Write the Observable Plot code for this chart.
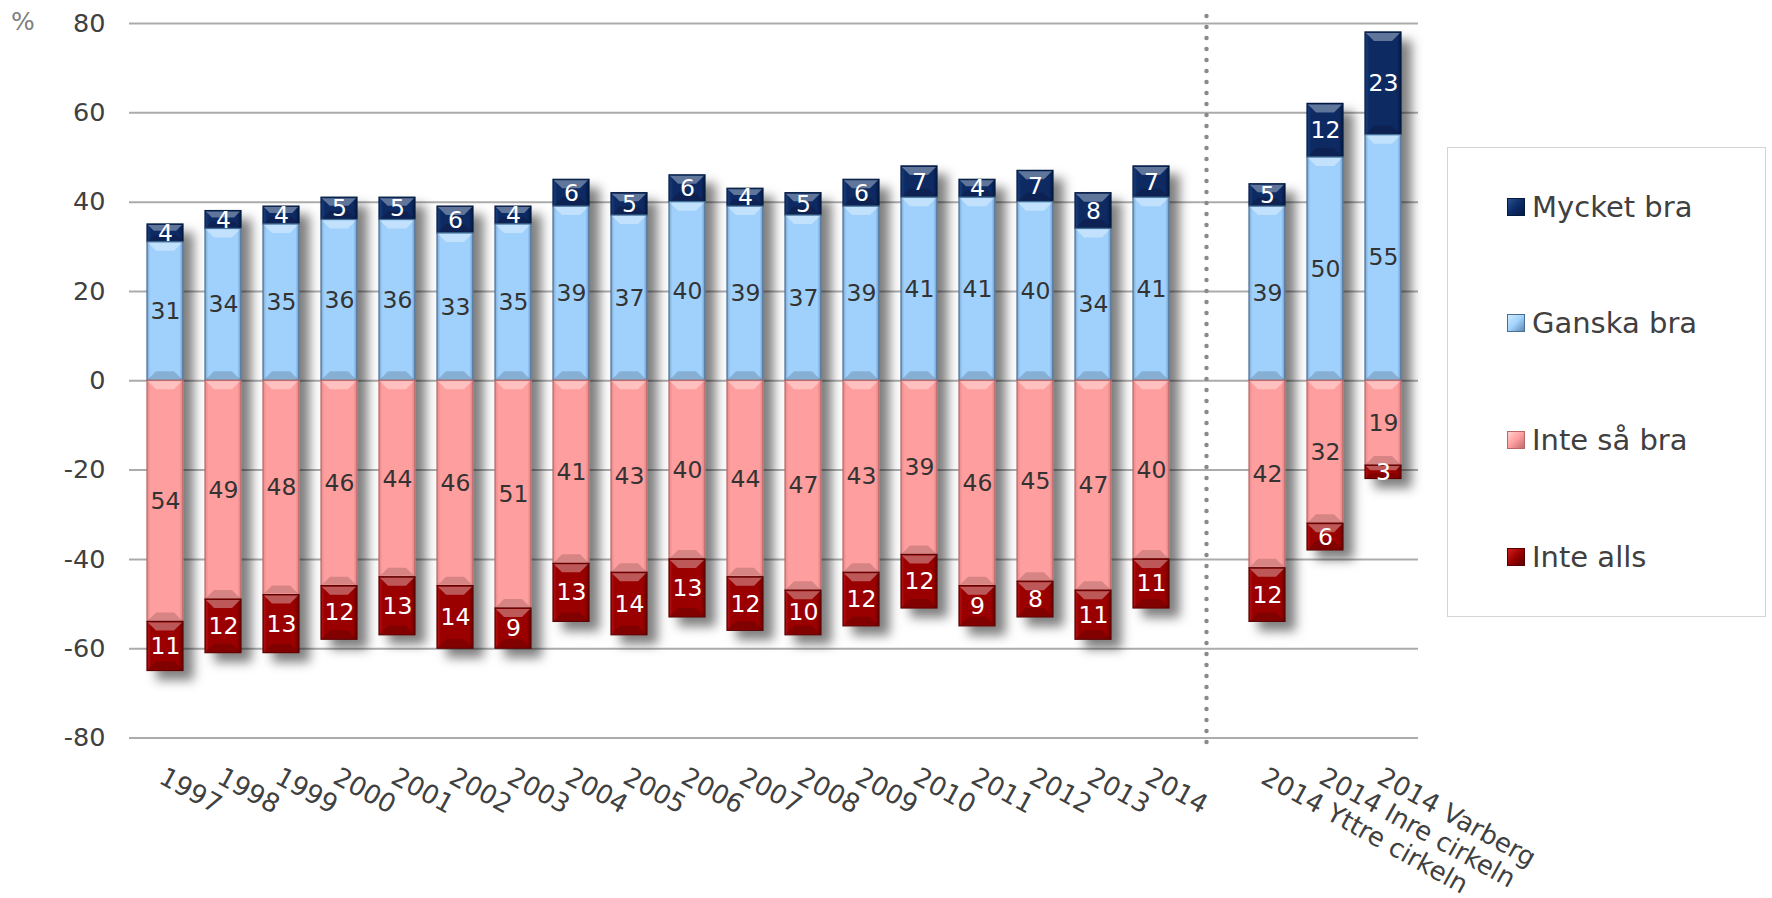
<!DOCTYPE html>
<html><head><meta charset="utf-8">
<script src="https://cdn.jsdelivr.net/npm/d3@7"></script>
<script src="https://cdn.jsdelivr.net/npm/@observablehq/plot@0.6"></script>
<style>
html,body{margin:0;padding:0;background:#fff;}
#wrap{position:relative;width:1772px;height:898px;font-family:"DejaVu Sans",Verdana,sans-serif;overflow:hidden;}
#pct{position:absolute;left:11px;top:9px;font-size:25px;line-height:1;color:#7f7f7f;}
#legend{position:absolute;left:1447px;top:147px;width:319px;height:470px;border:1px solid #d4d4d4;box-sizing:border-box;}
.item{position:absolute;left:59px;height:34px;display:flex;align-items:center;font-size:29px;color:#404040;white-space:nowrap;}
.sw{width:18px;height:18px;margin-right:7px;box-sizing:border-box;}
#chart{position:absolute;left:0;top:0;}
</style></head>
<body><div id="wrap"><div id="chart"></div><span id="pct">%</span><div id="legend"></div></div>
<script>
// ---- data ----
const yearCategories = ["1997","1998","1999","2000","2001","2002","2003","2004","2005","2006","2007","2008","2009","2010","2011","2012","2013","2014"];
const regionCategories = ["2014 Yttre cirkeln","2014 Inre cirkeln","2014 Varberg"];
const seriesNames = ["Mycket bra","Ganska bra","Inte så bra","Inte alls"];
const mycketBra = [4,4,4,5,5,6,4,6,5,6,4,5,6,7,4,7,8,7, 5,12,23];
const ganskaBra = [31,34,35,36,36,33,35,39,37,40,39,37,39,41,41,40,34,41, 39,50,55];
const inteSaBra = [54,49,48,46,44,46,51,41,43,40,44,47,43,39,46,45,47,40, 42,32,19];
const inteAlls  = [11,12,13,12,13,14,9,13,14,13,12,10,12,12,9,8,11,11, 12,6,3];
const yTicks = [-80,-60,-40,-20,0,20,40,60,80];

// ---- build table ----
const categories = [...yearCategories, ...regionCategories];
const GAP = "__gap__";
const xDomain = [...yearCategories, GAP, ...regionCategories];
const seriesValues = {"Mycket bra": mycketBra, "Ganska bra": ganskaBra, "Inte så bra": inteSaBra, "Inte alls": inteAlls};
const sign = {"Mycket bra": 1, "Ganska bra": 1, "Inte så bra": -1, "Inte alls": -1};
const table = [];
categories.forEach((c, i) => {
  for (const s of seriesNames) table.push({cat: c, series: s, value: sign[s] * seriesValues[s][i]});
});
const stackOrder = ["Ganska bra","Mycket bra","Inte så bra","Inte alls"];

const gradId = {"Mycket bra":"g-mb","Ganska bra":"g-gb","Inte så bra":"g-isb","Inte alls":"g-ia"};
const strokeCol = {"Mycket bra":"#061a40","Ganska bra":"#4a6f93","Inte så bra":"#b86868","Inte alls":"#5a0000"};
const textCol = {"Mycket bra":"#ffffff","Ganska bra":"#333333","Inte så bra":"#333333","Inte alls":"#ffffff"};

const font = "DejaVu Sans, Verdana, sans-serif";

const chart = Plot.plot({
  width: 1772, height: 898,
  marginLeft: 129, marginRight: 354, marginTop: 23, marginBottom: 160.5,
  style: {fontFamily: font, background: "transparent", overflow: "visible"},
  x: {type: "band", domain: xDomain, paddingInner: 0.386, paddingOuter: 0.193, axis: null},
  y: {domain: [-80, 80], axis: null},
  color: {type: "identity"},
  marks: [
    Plot.gridY(yTicks, {stroke: "#ababab", strokeOpacity: 1, strokeWidth: 2}),
    Plot.axisY(yTicks, {tickSize: 0, tickPadding: 24, fontSize: 25.5, color: "#404040", tickFormat: d => String(d), label: null}),
    Plot.ruleX([GAP], {x: d => d, stroke: "#8a8a8a", strokeWidth: 4.5, strokeDasharray: "0 11", strokeLinecap: "round", insetTop: -7, insetBottom: -13, dx: -3}),
    Plot.barY(table, Plot.stackY({x: "cat", y: "value", z: "series", order: stackOrder,
      fill: d => `url(#${gradId[d.series]})`, stroke: d => strokeCol[d.series], strokeWidth: 1.2})),
    Plot.text(table, Plot.stackY({x: "cat", y: "value", z: "series", order: stackOrder,
      text: d => Math.abs(d.value), fill: d => textCol[d.series], fontSize: 23.5})),
    Plot.text(categories, {x: d => d, frameAnchor: "bottom", rotate: 29, textAnchor: "start", lineAnchor: "top",
      dx: 1, dy: 28, fontSize: 26, fill: "#404040"})
  ]
});

// gradients + shadow
const svg = d3.select(chart);
const defs = svg.insert("defs", ":first-child");
function grad(id, stops) {
  const g = defs.append("linearGradient").attr("id", id).attr("x1", 0).attr("x2", 1).attr("y1", 0).attr("y2", 0);
  for (const [o, c] of stops) g.append("stop").attr("offset", o).attr("stop-color", c);
}
grad("g-mb", [[0,"#1d3f7a"],[0.12,"#0b2a64"],[0.88,"#0b2a64"],[1,"#041a45"]]);
grad("g-gb", [[0,"#7eaad6"],[0.1,"#a0d1fc"],[0.9,"#a0d1fc"],[1,"#6f97c0"]]);
grad("g-isb", [[0,"#e68a8a"],[0.1,"#ff9e9e"],[0.9,"#ff9e9e"],[1,"#d98080"]]);
grad("g-ia", [[0,"#b01010"],[0.12,"#9a0000"],[0.88,"#9a0000"],[1,"#6a0000"]]);
const f = defs.append("filter").attr("id", "shadow").attr("x", "-5%").attr("y", "-5%").attr("width", "115%").attr("height", "115%");
f.append("feDropShadow").attr("dx", 10).attr("dy", 9).attr("stdDeviation", 5.5).attr("flood-color", "#000").attr("flood-opacity", 0.5);
svg.selectAll('g[aria-label="bar"]').attr("filter", "url(#shadow)");

// bevel highlights derived from the rendered bars
svg.selectAll('g[aria-label="bar"] rect').each(function() {
  const r = d3.select(this);
  const x = +r.attr("x"), y = +r.attr("y"), w = +r.attr("width"), h = +r.attr("height");
  if (!(w > 0 && h > 0)) return;
  const b = Math.min(9, h / 2.6, w / 3);
  const p = this.parentNode;
  d3.select(p).insert("polygon", () => this.nextSibling)
    .attr("points", `${x+1},${y+1} ${x+w-1},${y+1} ${x+w-b},${y+b} ${x+b},${y+b}`)
    .attr("fill", "#ffffff").attr("fill-opacity", 0.35).attr("pointer-events", "none");
  d3.select(p).insert("polygon", () => this.nextSibling)
    .attr("points", `${x+1},${y+h-1} ${x+w-1},${y+h-1} ${x+w-b},${y+h-b} ${x+b},${y+h-b}`)
    .attr("fill", "#000000").attr("fill-opacity", 0.16).attr("pointer-events", "none");
});

document.getElementById("chart").appendChild(chart);

// legend
const swatchBg = {
  "Mycket bra": "linear-gradient(135deg,#2a4f8f,#0c2c68 50%,#041a45)",
  "Ganska bra": "linear-gradient(135deg,#cfeaff,#a2d2fc 50%,#5d88b3)",
  "Inte så bra": "linear-gradient(135deg,#ffd0d0,#ff9e9e 50%,#c06a6a)",
  "Inte alls": "linear-gradient(135deg,#d02020,#9a0000 50%,#5a0000)"
};
const legendCenters = [60, 176, 293, 410];
const lg = document.getElementById("legend");
seriesNames.forEach((s, i) => {
  const it = document.createElement("div");
  it.className = "item";
  it.style.top = (legendCenters[i] - 17 - 1) + "px";
  const sw = document.createElement("span");
  sw.className = "sw";
  sw.style.background = swatchBg[s];
  sw.style.border = "1px solid " + strokeCol[s];
  it.appendChild(sw);
  it.appendChild(document.createTextNode(s));
  lg.appendChild(it);
});
</script>
</body></html>
